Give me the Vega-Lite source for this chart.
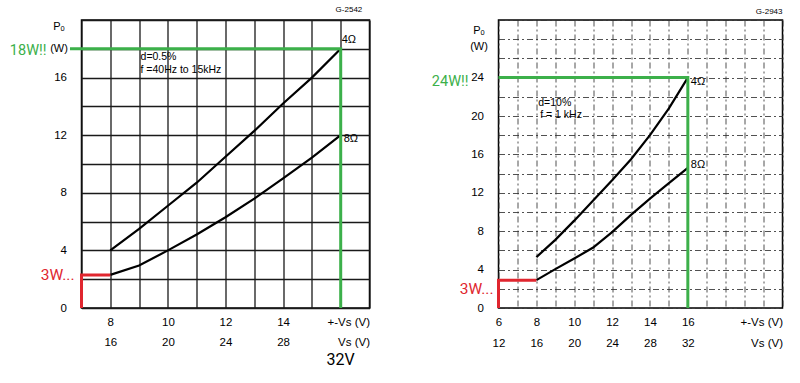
{
  "$schema": "https://vega.github.io/schema/vega-lite/v6.json",
  "background": "white",
  "padding": {"left": 8.5, "top": 5, "right": 5, "bottom": 5},
  "spacing": 129,
  "bounds": "flush",
  "config": {
    "font": "Liberation Sans",
    "view": {"stroke": "black", "strokeWidth": 1.5},
    "axis": {"labelColor": "black", "titleColor": "black", "labelFontSize": 11.5, "domain": false, "ticks": false, "labelFont": "Liberation Sans", "titleFont": "Liberation Sans", "titleFontWeight": "normal", "labelOverlap": false, "labelFlush": false, "labelBound": false, "format": "d"}
  },
  "datasets": {
    "leftCurves": [
      {"load": "4Ω", "vs": 8, "po": 4.0}, {"load": "4Ω", "vs": 9, "po": 5.5}, {"load": "4Ω", "vs": 10, "po": 7.1}, {"load": "4Ω", "vs": 11, "po": 8.7}, {"load": "4Ω", "vs": 12, "po": 10.5}, {"load": "4Ω", "vs": 13, "po": 12.3}, {"load": "4Ω", "vs": 14, "po": 14.2}, {"load": "4Ω", "vs": 15, "po": 16.0}, {"load": "4Ω", "vs": 16, "po": 18.0},
      {"load": "8Ω", "vs": 8, "po": 2.3}, {"load": "8Ω", "vs": 9, "po": 2.95}, {"load": "8Ω", "vs": 10, "po": 4.0}, {"load": "8Ω", "vs": 11, "po": 5.1}, {"load": "8Ω", "vs": 12, "po": 6.3}, {"load": "8Ω", "vs": 13, "po": 7.6}, {"load": "8Ω", "vs": 14, "po": 9.0}, {"load": "8Ω", "vs": 15, "po": 10.45}, {"load": "8Ω", "vs": 16, "po": 12.0}
    ],
    "rightCurves": [
      {"load": "4Ω", "vs": 8, "po": 5.3}, {"load": "4Ω", "vs": 9, "po": 7.1}, {"load": "4Ω", "vs": 10, "po": 9.1}, {"load": "4Ω", "vs": 11, "po": 11.2}, {"load": "4Ω", "vs": 12, "po": 13.3}, {"load": "4Ω", "vs": 13, "po": 15.5}, {"load": "4Ω", "vs": 14, "po": 18.0}, {"load": "4Ω", "vs": 15, "po": 20.8}, {"load": "4Ω", "vs": 16, "po": 24.0},
      {"load": "8Ω", "vs": 8, "po": 2.9}, {"load": "8Ω", "vs": 9, "po": 4.05}, {"load": "8Ω", "vs": 10, "po": 5.15}, {"load": "8Ω", "vs": 11, "po": 6.3}, {"load": "8Ω", "vs": 12, "po": 7.9}, {"load": "8Ω", "vs": 13, "po": 9.7}, {"load": "8Ω", "vs": 14, "po": 11.4}, {"load": "8Ω", "vs": 15, "po": 13.0}, {"load": "8Ω", "vs": 16, "po": 14.6}
    ],
    "leftGreen": [{"o": 1, "vs": 6.6, "po": 18}, {"o": 2, "vs": 16, "po": 18}, {"o": 3, "vs": 16, "po": 0}],
    "leftRed": [{"o": 1, "vs": 7, "po": 0}, {"o": 2, "vs": 7, "po": 2.3}, {"o": 3, "vs": 8, "po": 2.3}],
    "rightGreen": [{"o": 1, "vs": 6, "po": 24}, {"o": 2, "vs": 16, "po": 24}, {"o": 3, "vs": 16, "po": 0}],
    "rightRed": [{"o": 1, "vs": 6, "po": 0}, {"o": 2, "vs": 6, "po": 2.9}, {"o": 3, "vs": 8, "po": 2.9}]
  },
  "hconcat": [
    {
      "width": 288,
      "height": 288,
      "layer": [
        {
          "data": {"name": "leftCurves"},
          "mark": {"type": "line", "color": "black", "strokeWidth": 2.2},
          "encoding": {
            "x": {"field": "vs", "type": "quantitative", "scale": {"domain": [7, 17], "nice": false, "zero": false},
              "axis": {"title": null, "values": [7, 8, 9, 10, 11, 12, 13, 14, 15, 16, 17], "tickCount": 100, "format": "d", "grid": true, "gridColor": "#1a1a1a", "gridWidth": 1.3, "gridOpacity": 1, "labelPadding": 8, "labelLineHeight": 20,
                "labelAlign": {"condition": {"test": "datum.value == 17", "value": "right"}, "value": "center"},
                "labelExpr": "datum.value == 17 ? ['+-Vs (V)', 'Vs (V)'] : ((datum.value % 2 == 0 && datum.value <= 14) ? [datum.label, '' + (datum.value * 2)] : '')"}},
            "y": {"field": "po", "type": "quantitative", "scale": {"domain": [0, 20], "nice": false},
              "axis": {"title": ["Pₒ", "(W)"], "titleAngle": 0, "titleAlign": "center", "titleBaseline": "top", "titleX": -23, "titleY": 0, "titleFontSize": 11, "titleLineHeight": 22,
                "values": [0, 2, 4, 6, 8, 10, 12, 14, 16, 18, 20], "tickCount": 100, "format": "d", "grid": true, "gridColor": "#1a1a1a", "gridWidth": 1.3, "gridOpacity": 1, "labelPadding": 15,
                "labelExpr": "(datum.value % 4 == 0 && datum.value <= 16) ? datum.label : ''"}},
            "detail": {"field": "load"}
          }
        },
        {
          "data": {"name": "leftGreen"},
          "mark": {"type": "line", "color": "#3cb04a", "strokeWidth": 3},
          "encoding": {
            "x": {"field": "vs", "type": "quantitative", "scale": {"domain": [7, 17], "nice": false, "zero": false}},
            "y": {"field": "po", "type": "quantitative", "scale": {"domain": [0, 20], "nice": false}},
            "order": {"field": "o"}
          }
        },
        {
          "data": {"name": "leftRed"},
          "mark": {"type": "line", "color": "#e0262f", "strokeWidth": 3},
          "encoding": {
            "x": {"field": "vs", "type": "quantitative", "scale": {"domain": [7, 17], "nice": false, "zero": false}},
            "y": {"field": "po", "type": "quantitative", "scale": {"domain": [0, 20], "nice": false}},
            "order": {"field": "o"}
          }
        },
        {
          "data": {"values": [{"label": "18W!!", "vs": 7, "po": 18}]},
          "mark": {"type": "text", "align": "right", "dx": -35, "dy": 2, "fontSize": 14.5, "font": "Roboto", "color": "#3cb04a"},
          "encoding": {
            "x": {"field": "vs", "type": "quantitative", "scale": {"domain": [7, 17], "nice": false, "zero": false}},
            "y": {"field": "po", "type": "quantitative", "scale": {"domain": [0, 20], "nice": false}},
            "text": {"field": "label"}
          }
        },
        {
          "data": {"values": [{"label": "3W...", "vs": 7, "po": 2.3}]},
          "mark": {"type": "text", "align": "right", "dx": -7, "dy": 0, "fontSize": 15.5, "font": "Roboto", "color": "#e0262f"},
          "encoding": {
            "x": {"field": "vs", "type": "quantitative", "scale": {"domain": [7, 17], "nice": false, "zero": false}},
            "y": {"field": "po", "type": "quantitative", "scale": {"domain": [0, 20], "nice": false}},
            "text": {"field": "label"}
          }
        },
        {
          "data": {"values": [{"label": "32V", "vs": 16, "po": 0}]},
          "mark": {"type": "text", "align": "center", "dy": 52, "fontSize": 16, "font": "Roboto", "color": "black"},
          "encoding": {
            "x": {"field": "vs", "type": "quantitative", "scale": {"domain": [7, 17], "nice": false, "zero": false}},
            "y": {"field": "po", "type": "quantitative", "scale": {"domain": [0, 20], "nice": false}},
            "text": {"field": "label"}
          }
        },
        {
          "data": {"values": [{"label": "4Ω", "vs": 16, "po": 18}]},
          "mark": {"type": "text", "align": "left", "dx": 1, "dy": -9, "fontSize": 11, "color": "black"},
          "encoding": {
            "x": {"field": "vs", "type": "quantitative", "scale": {"domain": [7, 17], "nice": false, "zero": false}},
            "y": {"field": "po", "type": "quantitative", "scale": {"domain": [0, 20], "nice": false}},
            "text": {"field": "label"}
          }
        },
        {
          "data": {"values": [{"label": "8Ω", "vs": 16, "po": 12}]},
          "mark": {"type": "text", "align": "left", "dx": 3, "dy": 4, "fontSize": 11, "color": "black"},
          "encoding": {
            "x": {"field": "vs", "type": "quantitative", "scale": {"domain": [7, 17], "nice": false, "zero": false}},
            "y": {"field": "po", "type": "quantitative", "scale": {"domain": [0, 20], "nice": false}},
            "text": {"field": "label"}
          }
        },
        {
          "data": {"values": [{"label": "d=0.5%", "vs": 9.05, "po": 17.4}, {"label": "f =40Hz to 15kHz", "vs": 9.05, "po": 16.5}]},
          "mark": {"type": "text", "align": "left", "fontSize": 10.5, "color": "black"},
          "encoding": {
            "x": {"field": "vs", "type": "quantitative", "scale": {"domain": [7, 17], "nice": false, "zero": false}},
            "y": {"field": "po", "type": "quantitative", "scale": {"domain": [0, 20], "nice": false}},
            "text": {"field": "label"}
          }
        },
        {
          "data": {"values": [{"label": "G-2542", "vs": 16.75, "po": 20.7}]},
          "mark": {"type": "text", "align": "right", "fontSize": 8, "color": "black"},
          "encoding": {
            "x": {"field": "vs", "type": "quantitative", "scale": {"domain": [7, 17], "nice": false, "zero": false}},
            "y": {"field": "po", "type": "quantitative", "scale": {"domain": [0, 20], "nice": false}},
            "text": {"field": "label"}
          }
        }
      ]
    },
    {
      "width": 284,
      "height": 288,
      "layer": [
        {
          "data": {"name": "rightCurves"},
          "mark": {"type": "line", "color": "black", "strokeWidth": 2.2},
          "encoding": {
            "x": {"field": "vs", "type": "quantitative", "scale": {"domain": [6, 21], "nice": false, "zero": false},
              "axis": {"title": null, "values": [6, 7, 8, 9, 10, 11, 12, 13, 14, 15, 16, 17, 18, 19, 20, 21], "tickCount": 100, "format": "d", "grid": true, "gridColor": "#333", "gridWidth": 1, "gridOpacity": 0.85, "gridDash": [6, 3, 2, 3], "labelPadding": 8, "labelLineHeight": 21,
                "labelAlign": {"condition": {"test": "datum.value == 21", "value": "right"}, "value": "center"},
                "labelExpr": "datum.value == 21 ? ['+-Vs (V)', 'Vs (V)'] : ((datum.value % 2 == 0 && datum.value <= 16) ? [datum.label, '' + (datum.value * 2)] : '')"}},
            "y": {"field": "po", "type": "quantitative", "scale": {"domain": [0, 30], "nice": false},
              "axis": {"title": ["Pₒ", "(W)"], "titleAngle": 0, "titleAlign": "center", "titleBaseline": "top", "titleX": -20, "titleY": 4, "titleFontSize": 11, "titleLineHeight": 16,
                "values": [0, 2, 4, 6, 8, 10, 12, 14, 16, 18, 20, 22, 24, 26, 28, 30], "tickCount": 100, "format": "d", "grid": true, "gridColor": "#333", "gridWidth": 1, "gridOpacity": 0.85, "gridDash": [6, 3, 2, 3], "labelPadding": 15,
                "labelExpr": "(datum.value % 4 == 0 && datum.value <= 24) ? datum.label : ''"}},
            "detail": {"field": "load"}
          }
        },
        {
          "data": {"name": "rightGreen"},
          "mark": {"type": "line", "color": "#3cb04a", "strokeWidth": 3},
          "encoding": {
            "x": {"field": "vs", "type": "quantitative", "scale": {"domain": [6, 21], "nice": false, "zero": false}},
            "y": {"field": "po", "type": "quantitative", "scale": {"domain": [0, 30], "nice": false}},
            "order": {"field": "o"}
          }
        },
        {
          "data": {"name": "rightRed"},
          "mark": {"type": "line", "color": "#e0262f", "strokeWidth": 3},
          "encoding": {
            "x": {"field": "vs", "type": "quantitative", "scale": {"domain": [6, 21], "nice": false, "zero": false}},
            "y": {"field": "po", "type": "quantitative", "scale": {"domain": [0, 30], "nice": false}},
            "order": {"field": "o"}
          }
        },
        {
          "data": {"values": [{"label": "24W!!", "vs": 6, "po": 24}]},
          "mark": {"type": "text", "align": "right", "dx": -30, "dy": 4, "fontSize": 14.5, "font": "Roboto", "color": "#3cb04a"},
          "encoding": {
            "x": {"field": "vs", "type": "quantitative", "scale": {"domain": [6, 21], "nice": false, "zero": false}},
            "y": {"field": "po", "type": "quantitative", "scale": {"domain": [0, 30], "nice": false}},
            "text": {"field": "label"}
          }
        },
        {
          "data": {"values": [{"label": "3W...", "vs": 6, "po": 2.9}]},
          "mark": {"type": "text", "align": "right", "dx": -5, "dy": 9, "fontSize": 15.5, "font": "Roboto", "color": "#e0262f"},
          "encoding": {
            "x": {"field": "vs", "type": "quantitative", "scale": {"domain": [6, 21], "nice": false, "zero": false}},
            "y": {"field": "po", "type": "quantitative", "scale": {"domain": [0, 30], "nice": false}},
            "text": {"field": "label"}
          }
        },
        {
          "data": {"values": [{"label": "4Ω", "vs": 16, "po": 24}]},
          "mark": {"type": "text", "align": "left", "dx": 3, "dy": 4, "fontSize": 11, "color": "black"},
          "encoding": {
            "x": {"field": "vs", "type": "quantitative", "scale": {"domain": [6, 21], "nice": false, "zero": false}},
            "y": {"field": "po", "type": "quantitative", "scale": {"domain": [0, 30], "nice": false}},
            "text": {"field": "label"}
          }
        },
        {
          "data": {"values": [{"label": "8Ω", "vs": 16, "po": 14.6}]},
          "mark": {"type": "text", "align": "left", "dx": 3, "dy": -3, "fontSize": 11, "color": "black"},
          "encoding": {
            "x": {"field": "vs", "type": "quantitative", "scale": {"domain": [6, 21], "nice": false, "zero": false}},
            "y": {"field": "po", "type": "quantitative", "scale": {"domain": [0, 30], "nice": false}},
            "text": {"field": "label"}
          }
        },
        {
          "data": {"values": [{"label": "d=10%", "vs": 8.1, "po": 21.35}, {"label": "f = 1 kHz", "vs": 8.2, "po": 20.1}]},
          "mark": {"type": "text", "align": "left", "fontSize": 10.5, "color": "black"},
          "encoding": {
            "x": {"field": "vs", "type": "quantitative", "scale": {"domain": [6, 21], "nice": false, "zero": false}},
            "y": {"field": "po", "type": "quantitative", "scale": {"domain": [0, 30], "nice": false}},
            "text": {"field": "label"}
          }
        },
        {
          "data": {"values": [{"label": "G-2943", "vs": 21, "po": 30.8}]},
          "mark": {"type": "text", "align": "right", "fontSize": 8, "color": "black"},
          "encoding": {
            "x": {"field": "vs", "type": "quantitative", "scale": {"domain": [6, 21], "nice": false, "zero": false}},
            "y": {"field": "po", "type": "quantitative", "scale": {"domain": [0, 30], "nice": false}},
            "text": {"field": "label"}
          }
        }
      ]
    }
  ]
}
